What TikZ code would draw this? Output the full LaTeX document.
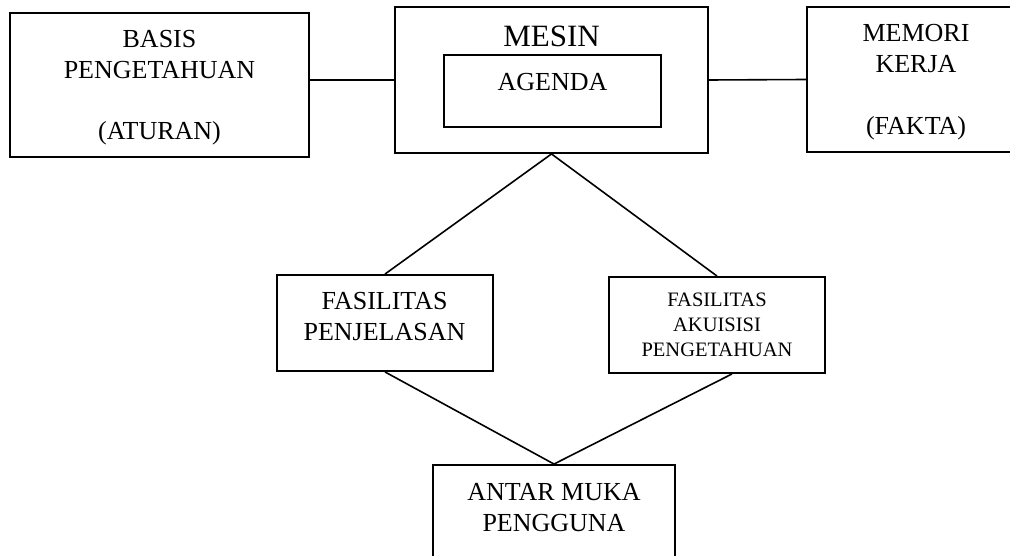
\documentclass[tikz,border=0pt]{standalone}
\usepackage{fontspec}
\setmainfont{Liberation Serif}
\begin{document}
\begin{tikzpicture}[x=1pt,y=-1pt,
  kotak/.style={draw, line width=1.9pt, inner sep=0pt},
  teks/.style={align=center, anchor=north, inner sep=0pt},
  garis/.style={line width=1.6pt}]
\useasboundingbox (0,0) rectangle (1010,556);
\node[kotak, minimum width=299pt, minimum height=144pt] (basis) at (159.5,85) {};
\node[kotak, minimum width=313pt, minimum height=146pt] (mesin) at (551.5,80) {};
\node[kotak, minimum width=217pt, minimum height=72pt] (agenda) at (552.5,91) {};
\node[kotak, minimum width=218pt, minimum height=145pt] (memori) at (916,79.5) {};
\node[kotak, minimum width=216pt, minimum height=96pt] (penjelasan) at (385,323) {};
\node[kotak, minimum width=216pt, minimum height=96pt] (akuisisi) at (717,325) {};
\node[kotak, minimum width=242pt, minimum height=140pt] (antarmuka) at (554,535) {};
\node[teks, font=\fontsize{26}{30.5}\selectfont] (tbasis) at (159.5,30.4) {BASIS\\PENGETAHUAN\\[30.5pt](ATURAN)};
\node[teks, font=\fontsize{31}{36}\selectfont] (tmesin) at (551.5,26) {MESIN};
\node[teks, font=\fontsize{26}{31}\selectfont] (tagenda) at (552.5,73.4) {AGENDA};
\node[teks, font=\fontsize{26}{31}\selectfont] (tmemori) at (916,24.4) {MEMORI\\KERJA\\[31pt](FAKTA)};
\node[teks, font=\fontsize{26}{31}\selectfont] (tpenjelasan) at (384.5,292.4) {FASILITAS\\PENJELASAN};
\node[teks, font=\fontsize{20.5}{25}\selectfont] (takuisisi) at (717,293.1) {FASILITAS\\AKUISISI\\PENGETAHUAN};
\node[teks, font=\fontsize{26}{31}\selectfont] (tantarmuka) at (554,482.8) {ANTAR MUKA\\PENGGUNA};
\draw[garis] (basis.east |- mesin.west) -- (mesin.west);
\draw[garis] (mesin.east) -- (memori.west);
\draw[garis] (mesin.south) -- (penjelasan.north);
\draw[garis] (mesin.south) -- (akuisisi.north);
\draw[garis] (penjelasan.south) -- (antarmuka.north);
\draw[garis] ([xshift=15pt]akuisisi.south) -- (antarmuka.north);
\end{tikzpicture}
\end{document}
